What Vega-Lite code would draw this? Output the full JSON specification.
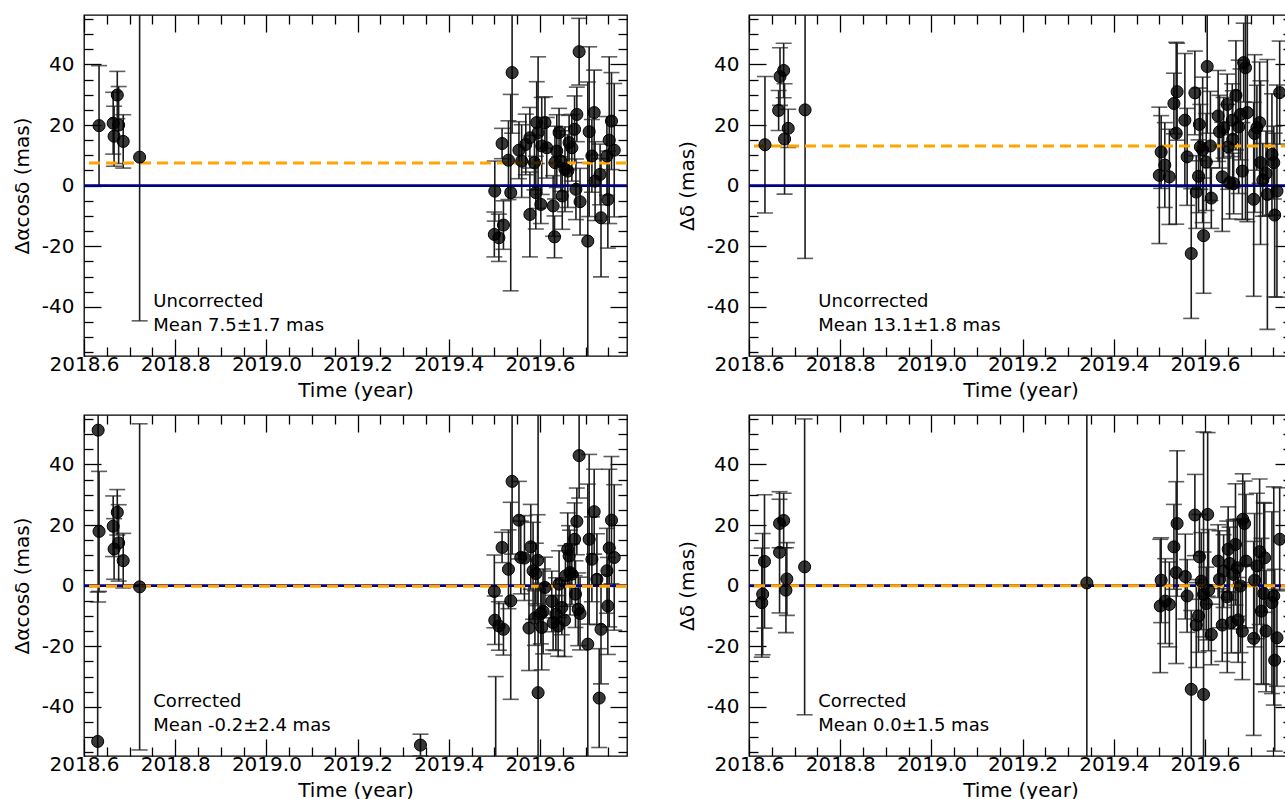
{
  "$schema": "https://vega.github.io/schema/vega-lite/v6.json",
  "background": "white",
  "padding": {"left": 11, "top": 13, "right": 0, "bottom": 0},
  "config": {
    "font": "DejaVu Sans",
    "view": {"stroke": "#000", "strokeWidth": 1.3},
    "axis": {
      "domain": false, "grid": false, "tickColor": "#000", "tickWidth": 1.3,
      "labelColor": "#000", "titleColor": "#000", "labelFont": "DejaVu Sans", "labelFontSize": 20,
      "titleFont": "DejaVu Sans", "titleFontSize": 20, "titleFontWeight": "normal"
    }
  },
  "datasets": {
    "one": [{}],
    "tl": [
      {"t":2018.633,"v":19.8,"e":19.8},{"t":2018.664,"v":20.6,"e":10.2},{"t":2018.666,"v":16.3,"e":9.9},
      {"t":2018.673,"v":29.9,"e":7.8},{"t":2018.676,"v":20.0,"e":12.7},{"t":2018.686,"v":14.6,"e":8.8},
      {"t":2018.722,"v":9.4,"e":54},
      {"t":2019.501,"v":-1.8,"e":9.9},{"t":2019.517,"v":13.9,"e":5},{"t":2019.500,"v":-16.1,"e":7.4},
      {"t":2019.510,"v":-17.2,"e":7.8},{"t":2019.520,"v":-13.0,"e":8},{"t":2019.531,"v":8.4,"e":13},
      {"t":2019.536,"v":-2.3,"e":32.4},{"t":2019.539,"v":37.3,"e":20},{"t":2019.554,"v":11.7,"e":9.4},
      {"t":2019.560,"v":8.1,"e":12},{"t":2019.569,"v":13.6,"e":10},{"t":2019.578,"v":15.8,"e":10},
      {"t":2019.578,"v":-9.5,"e":14},{"t":2019.588,"v":7.6,"e":9},{"t":2019.591,"v":-2.3,"e":12},
      {"t":2019.593,"v":20.8,"e":13.5},{"t":2019.596,"v":17.5,"e":25},{"t":2019.602,"v":-6.2,"e":6.3},
      {"t":2019.604,"v":13.1,"e":16},{"t":2019.611,"v":20.8,"e":8.5},{"t":2019.615,"v":12.5,"e":10},
      {"t":2019.629,"v":-6.7,"e":10},{"t":2019.632,"v":-16.9,"e":6.9},{"t":2019.633,"v":7.6,"e":12},
      {"t":2019.637,"v":11.4,"e":12},{"t":2019.642,"v":17.5,"e":8},{"t":2019.646,"v":8.1,"e":10},
      {"t":2019.649,"v":-3.4,"e":11},{"t":2019.655,"v":5.4,"e":14},{"t":2019.661,"v":4.8,"e":12},
      {"t":2019.664,"v":14.2,"e":9},{"t":2019.670,"v":12.5,"e":11},{"t":2019.676,"v":18.6,"e":11},
      {"t":2019.679,"v":-1.2,"e":10},{"t":2019.681,"v":23.5,"e":9},{"t":2019.686,"v":44.2,"e":11},
      {"t":2019.688,"v":-5.3,"e":11},{"t":2019.705,"v":-18.3,"e":52.5},{"t":2019.708,"v":17.8,"e":28},
      {"t":2019.714,"v":9.8,"e":12},{"t":2019.719,"v":24.1,"e":14},{"t":2019.721,"v":1.5,"e":13},
      {"t":2019.732,"v":3.7,"e":10},{"t":2019.734,"v":-10.6,"e":19.5},{"t":2019.747,"v":9.8,"e":13},
      {"t":2019.749,"v":-4.6,"e":16},{"t":2019.752,"v":15.0,"e":27.5},{"t":2019.757,"v":21.3,"e":16},
      {"t":2019.763,"v":11.7,"e":22}
    ],
    "tr": [
      {"t":2018.635,"v":13.5,"e":22.5},{"t":2018.665,"v":24.8,"e":6.6},{"t":2018.668,"v":36.0,"e":9.5},
      {"t":2018.676,"v":38.0,"e":9},{"t":2018.678,"v":15.4,"e":18.2},{"t":2018.686,"v":18.9,"e":6.3},
      {"t":2018.723,"v":25.0,"e":49},
      {"t":2019.504,"v":11.1,"e":12},{"t":2019.512,"v":6.8,"e":14},{"t":2019.500,"v":3.4,"e":22.5},
      {"t":2019.522,"v":2.9,"e":15.7},{"t":2019.532,"v":27.1,"e":10},{"t":2019.539,"v":31.0,"e":16},
      {"t":2019.537,"v":17.3,"e":30},{"t":2019.556,"v":21.6,"e":22},{"t":2019.561,"v":9.5,"e":16},
      {"t":2019.570,"v":-22.4,"e":21.4},{"t":2019.578,"v":30.6,"e":13.8},{"t":2019.581,"v":-2.1,"e":12},
      {"t":2019.586,"v":3.1,"e":12},{"t":2019.588,"v":20.2,"e":12},{"t":2019.590,"v":12.8,"e":14},
      {"t":2019.595,"v":11.8,"e":24},{"t":2019.597,"v":-16.5,"e":19},{"t":2019.603,"v":7.8,"e":16},
      {"t":2019.605,"v":39.3,"e":22},{"t":2019.612,"v":13.1,"e":18},{"t":2019.614,"v":-4.1,"e":10},
      {"t":2019.629,"v":23.0,"e":15},{"t":2019.632,"v":17.8,"e":12},{"t":2019.638,"v":2.9,"e":18},
      {"t":2019.641,"v":19.1,"e":10},{"t":2019.649,"v":26.8,"e":10},{"t":2019.651,"v":12.8,"e":14},
      {"t":2019.654,"v":1.0,"e":12},{"t":2019.660,"v":21.6,"e":12},{"t":2019.661,"v":15.3,"e":16},
      {"t":2019.663,"v":0.7,"e":10},{"t":2019.668,"v":29.8,"e":18},{"t":2019.674,"v":19.4,"e":22},
      {"t":2019.678,"v":23.5,"e":15},{"t":2019.682,"v":4.8,"e":16},{"t":2019.685,"v":40.6,"e":13},
      {"t":2019.689,"v":38.9,"e":50},{"t":2019.693,"v":24.1,"e":36},{"t":2019.707,"v":-4.5,"e":32},
      {"t":2019.709,"v":17.2,"e":26},{"t":2019.714,"v":19.1,"e":14},{"t":2019.720,"v":20.8,"e":20},
      {"t":2019.722,"v":7.6,"e":27},{"t":2019.727,"v":1.9,"e":12},{"t":2019.734,"v":4.0,"e":14},
      {"t":2019.737,"v":-2.9,"e":44.5},{"t":2019.747,"v":10.3,"e":20},{"t":2019.751,"v":7.6,"e":12},
      {"t":2019.753,"v":-9.7,"e":27},{"t":2019.758,"v":-1.8,"e":35},{"t":2019.764,"v":30.7,"e":17}
    ],
    "bl": [
      {"t":2018.631,"v":51.3,"e":56.7},{"t":2018.633,"v":17.9,"e":19.8},{"t":2018.630,"v":-51.4,"e":49.3},
      {"t":2018.664,"v":19.6,"e":10},{"t":2018.666,"v":12.1,"e":10},{"t":2018.673,"v":24.2,"e":7.5},
      {"t":2018.676,"v":14.1,"e":12.6},{"t":2018.686,"v":8.25,"e":9},{"t":2018.722,"v":-0.4,"e":53.8},
      {"t":2019.338,"v":-52.6,"e":3.6},{"t":2019.503,"v":-72.0,"e":42},
      {"t":2019.500,"v":-1.9,"e":12},{"t":2019.501,"v":-11.4,"e":8},{"t":2019.510,"v":-13.3,"e":8},
      {"t":2019.520,"v":-14.4,"e":8.5},{"t":2019.517,"v":12.6,"e":5},{"t":2019.531,"v":5.4,"e":13},
      {"t":2019.536,"v":-5.0,"e":32.5},{"t":2019.539,"v":34.4,"e":24},{"t":2019.554,"v":21.6,"e":12.8},
      {"t":2019.558,"v":9.3,"e":12},{"t":2019.566,"v":9.1,"e":14},{"t":2019.576,"v":-14.0,"e":14},
      {"t":2019.580,"v":12.8,"e":14},{"t":2019.585,"v":4.9,"e":16},{"t":2019.589,"v":-10.7,"e":9},
      {"t":2019.591,"v":4.0,"e":10},{"t":2019.595,"v":8.4,"e":15},{"t":2019.596,"v":-35.3,"e":92},
      {"t":2019.602,"v":-9.2,"e":10},{"t":2019.604,"v":-13.8,"e":14},{"t":2019.607,"v":-8.5,"e":14},
      {"t":2019.611,"v":-0.6,"e":10},{"t":2019.626,"v":-5.2,"e":10},{"t":2019.629,"v":-12.2,"e":9},
      {"t":2019.635,"v":-9.4,"e":12},{"t":2019.640,"v":-13.3,"e":10},{"t":2019.642,"v":0.5,"e":11},
      {"t":2019.648,"v":-7.2,"e":9},{"t":2019.654,"v":-11.4,"e":12},{"t":2019.656,"v":3.2,"e":10},
      {"t":2019.661,"v":12.0,"e":12},{"t":2019.664,"v":9.8,"e":10},{"t":2019.666,"v":4.3,"e":14},
      {"t":2019.670,"v":3.8,"e":10},{"t":2019.676,"v":15.3,"e":12},{"t":2019.678,"v":-2.8,"e":11},
      {"t":2019.681,"v":21.2,"e":11},{"t":2019.684,"v":-7.8,"e":12},{"t":2019.686,"v":42.9,"e":14},
      {"t":2019.688,"v":-9.2,"e":12},{"t":2019.705,"v":-19.3,"e":52.8},{"t":2019.708,"v":15.3,"e":28},
      {"t":2019.714,"v":8.7,"e":14},{"t":2019.719,"v":24.4,"e":14},{"t":2019.725,"v":2.1,"e":15},
      {"t":2019.730,"v":-37.1,"e":16.3},{"t":2019.734,"v":-14.4,"e":18},{"t":2019.747,"v":4.9,"e":14},
      {"t":2019.749,"v":-6.7,"e":16},{"t":2019.752,"v":12.4,"e":26},{"t":2019.757,"v":21.6,"e":21},
      {"t":2019.763,"v":9.3,"e":24}
    ],
    "br": [
      {"t":2018.628,"v":-5.6,"e":18},{"t":2018.630,"v":-2.8,"e":20},{"t":2018.634,"v":8.0,"e":22},
      {"t":2018.667,"v":11.0,"e":20},{"t":2018.667,"v":20.5,"e":8},{"t":2018.676,"v":21.5,"e":9},
      {"t":2018.683,"v":2.2,"e":12},{"t":2018.681,"v":-1.5,"e":14},{"t":2018.722,"v":6.2,"e":48.8},
      {"t":2019.341,"v":0.9,"e":70},
      {"t":2019.504,"v":1.8,"e":14},{"t":2019.502,"v":-6.7,"e":22},{"t":2019.513,"v":-5.1,"e":14},
      {"t":2019.522,"v":-6.2,"e":14},{"t":2019.532,"v":12.8,"e":14},{"t":2019.539,"v":20.5,"e":24},
      {"t":2019.537,"v":4.3,"e":30},{"t":2019.557,"v":3.0,"e":14},{"t":2019.561,"v":-3.4,"e":12},
      {"t":2019.570,"v":-34.2,"e":26},{"t":2019.578,"v":23.3,"e":13.4},{"t":2019.581,"v":-13.0,"e":14},
      {"t":2019.586,"v":-10.0,"e":12},{"t":2019.588,"v":9.5,"e":14},{"t":2019.592,"v":1.5,"e":16},
      {"t":2019.597,"v":-35.9,"e":86.6},{"t":2019.597,"v":-2.9,"e":14},{"t":2019.603,"v":-5.9,"e":12},
      {"t":2019.606,"v":23.5,"e":27},{"t":2019.608,"v":-1.5,"e":20},{"t":2019.614,"v":-16.1,"e":10},
      {"t":2019.629,"v":8.1,"e":12},{"t":2019.632,"v":2.1,"e":16},{"t":2019.638,"v":-13.0,"e":12},
      {"t":2019.641,"v":4.8,"e":12},{"t":2019.649,"v":-3.7,"e":25},{"t":2019.651,"v":12.0,"e":14},
      {"t":2019.654,"v":7.3,"e":12},{"t":2019.658,"v":-12.2,"e":10},{"t":2019.663,"v":3.7,"e":18},
      {"t":2019.667,"v":13.6,"e":20},{"t":2019.671,"v":5.9,"e":16},{"t":2019.673,"v":-11.3,"e":14},
      {"t":2019.678,"v":-0.1,"e":22},{"t":2019.682,"v":-15.0,"e":16},{"t":2019.683,"v":21.9,"e":15},
      {"t":2019.687,"v":20.5,"e":14},{"t":2019.690,"v":8.1,"e":22},{"t":2019.707,"v":-17.4,"e":32},
      {"t":2019.709,"v":1.8,"e":22},{"t":2019.714,"v":6.5,"e":24},{"t":2019.720,"v":11.2,"e":24},
      {"t":2019.724,"v":-8.4,"e":24},{"t":2019.729,"v":-2.6,"e":30},{"t":2019.731,"v":9.2,"e":18},
      {"t":2019.734,"v":-15.0,"e":20},{"t":2019.747,"v":-5.6,"e":30},{"t":2019.751,"v":-3.4,"e":36},
      {"t":2019.753,"v":-24.6,"e":30},{"t":2019.758,"v":-17.2,"e":16},{"t":2019.764,"v":15.3,"e":17}
    ]
  },
  "bounds": "flush",
  "columns": 2,
  "spacing": {"row": 59, "column": 122},
  "concat": [
    {
      "width": 543, "height": 341,
      "data": {"name": "tl"},
      "resolve": {"axis": {"x": "independent", "y": "independent"}},
      "layer": [
        {
          "mark": {"type": "errorbar", "clip": true, "color": "#1c1c1c", "ticks": {"size": 16}, "rule": true, "size": 16, "thickness": 1.6},
          "encoding": {
            "x": {"field": "t", "type": "quantitative", "scale": {"domain": [2018.6, 2019.791], "nice": false, "zero": false}, "axis": null},
            "y": {"field": "v", "type": "quantitative", "scale": {"domain": [-56.2, 56.3], "nice": false, "zero": false}, "axis": null},
            "yError": {"field": "e"}
          }
        },
        {"data": {"name": "one"}, "mark": {"type": "rule", "color": "#000080", "strokeWidth": 2.8}, "encoding": {"y": {"datum": 0, "axis": null}}},
        {"data": {"name": "one"}, "mark": {"type": "rule", "color": "#FFA500", "strokeWidth": 3, "strokeDash": [11, 6]}, "encoding": {"y": {"datum": 7.5, "axis": null}}},
        {
          "mark": {"type": "point", "shape": "circle", "filled": true, "size": 145, "fill": "#000", "fillOpacity": 0.78, "stroke": "#000", "strokeWidth": 1, "strokeOpacity": 1, "clip": true},
          "encoding": {
            "x": {"field": "t", "type": "quantitative", "axis": {"orient": "bottom", "offset": 0, "values": [2018.6, 2018.8, 2019.0, 2019.2, 2019.4, 2019.6], "format": ".1f", "tickSize": -17, "labelPadding": 15, "labelFlush": false, "labelOverlap": false, "title": "Time (year)", "titlePadding": 6}},
            "y": {"field": "v", "type": "quantitative", "axis": {"orient": "left", "offset": 0, "values": [-40, -20, 0, 20, 40], "labelExpr": "replace(datum.label, '−', '-')", "tickSize": -17, "labelPadding": 27, "labelFlush": false, "title": "Δαcosδ (mas)", "titlePadding": 9}}
          }
        },
        {
          "mark": {"type": "point", "opacity": 0},
          "encoding": {
            "x": {"field": "t", "type": "quantitative", "axis": {"orient": "top", "offset": 0, "values": [2018.6, 2018.8, 2019.0, 2019.2, 2019.4, 2019.6], "tickSize": -17, "labels": false, "title": null}},
            "y": {"field": "v", "type": "quantitative", "axis": {"orient": "right", "offset": 0, "values": [-40, -20, 0, 20, 40], "tickSize": -17, "labels": false, "title": null}}
          }
        },
        {
          "mark": {"type": "point", "opacity": 0},
          "encoding": {
            "x": {"field": "t", "type": "quantitative", "axis": {"orient": "bottom", "offset": 0, "values": [2018.65, 2018.7, 2018.75, 2018.85, 2018.9, 2018.95, 2019.05, 2019.1, 2019.15, 2019.25, 2019.3, 2019.35, 2019.45, 2019.5, 2019.55, 2019.65, 2019.7, 2019.75], "tickSize": -9, "labels": false, "title": null}},
            "y": {"field": "v", "type": "quantitative", "axis": {"orient": "left", "offset": 0, "values": [-55, -50, -45, -35, -30, -25, -15, -10, -5, 5, 10, 15, 25, 30, 35, 45, 50, 55], "tickSize": -9, "labels": false, "title": null}}
          }
        },
        {
          "mark": {"type": "point", "opacity": 0},
          "encoding": {
            "x": {"field": "t", "type": "quantitative", "axis": {"orient": "top", "offset": 0, "values": [2018.65, 2018.7, 2018.75, 2018.85, 2018.9, 2018.95, 2019.05, 2019.1, 2019.15, 2019.25, 2019.3, 2019.35, 2019.45, 2019.5, 2019.55, 2019.65, 2019.7, 2019.75], "tickSize": -9, "labels": false, "title": null}},
            "y": {"field": "v", "type": "quantitative", "axis": {"orient": "right", "offset": 0, "values": [-55, -50, -45, -35, -30, -25, -15, -10, -5, 5, 10, 15, 25, 30, 35, 45, 50, 55], "tickSize": -9, "labels": false, "title": null}}
          }
        },
        {"data": {"name": "one"}, "mark": {"type": "text", "align": "left", "baseline": "middle", "fontSize": 18, "color": "#000"},
         "encoding": {"x": {"datum": 2018.752, "axis": null}, "y": {"datum": -38.3, "axis": null}, "text": {"value": "Uncorrected"}}},
        {"data": {"name": "one"}, "mark": {"type": "text", "align": "left", "baseline": "middle", "fontSize": 18, "color": "#000"},
         "encoding": {"x": {"datum": 2018.752, "axis": null}, "y": {"datum": -46.2, "axis": null}, "text": {"value": "Mean 7.5±1.7 mas"}}}
      ]
    },
    {
      "width": 543, "height": 341,
      "data": {"name": "tr"},
      "resolve": {"axis": {"x": "independent", "y": "independent"}},
      "layer": [
        {
          "mark": {"type": "errorbar", "clip": true, "color": "#1c1c1c", "ticks": {"size": 16}, "rule": true, "size": 16, "thickness": 1.6},
          "encoding": {
            "x": {"field": "t", "type": "quantitative", "scale": {"domain": [2018.6, 2019.791], "nice": false, "zero": false}, "axis": null},
            "y": {"field": "v", "type": "quantitative", "scale": {"domain": [-56.2, 56.3], "nice": false, "zero": false}, "axis": null},
            "yError": {"field": "e"}
          }
        },
        {"data": {"name": "one"}, "mark": {"type": "rule", "color": "#000080", "strokeWidth": 2.8}, "encoding": {"y": {"datum": 0, "axis": null}}},
        {"data": {"name": "one"}, "mark": {"type": "rule", "color": "#FFA500", "strokeWidth": 3, "strokeDash": [11, 6]}, "encoding": {"y": {"datum": 13.1, "axis": null}}},
        {
          "mark": {"type": "point", "shape": "circle", "filled": true, "size": 145, "fill": "#000", "fillOpacity": 0.78, "stroke": "#000", "strokeWidth": 1, "strokeOpacity": 1, "clip": true},
          "encoding": {
            "x": {"field": "t", "type": "quantitative", "axis": {"orient": "bottom", "offset": 0, "values": [2018.6, 2018.8, 2019.0, 2019.2, 2019.4, 2019.6], "format": ".1f", "tickSize": -17, "labelPadding": 15, "labelFlush": false, "labelOverlap": false, "title": "Time (year)", "titlePadding": 6}},
            "y": {"field": "v", "type": "quantitative", "axis": {"orient": "left", "offset": 0, "values": [-40, -20, 0, 20, 40], "labelExpr": "replace(datum.label, '−', '-')", "tickSize": -17, "labelPadding": 27, "labelFlush": false, "title": "Δδ (mas)", "titlePadding": 9}}
          }
        },
        {
          "mark": {"type": "point", "opacity": 0},
          "encoding": {
            "x": {"field": "t", "type": "quantitative", "axis": {"orient": "top", "offset": 0, "values": [2018.6, 2018.8, 2019.0, 2019.2, 2019.4, 2019.6], "tickSize": -17, "labels": false, "title": null}},
            "y": {"field": "v", "type": "quantitative", "axis": {"orient": "right", "offset": 0, "values": [-40, -20, 0, 20, 40], "tickSize": -17, "labels": false, "title": null}}
          }
        },
        {
          "mark": {"type": "point", "opacity": 0},
          "encoding": {
            "x": {"field": "t", "type": "quantitative", "axis": {"orient": "bottom", "offset": 0, "values": [2018.65, 2018.7, 2018.75, 2018.85, 2018.9, 2018.95, 2019.05, 2019.1, 2019.15, 2019.25, 2019.3, 2019.35, 2019.45, 2019.5, 2019.55, 2019.65, 2019.7, 2019.75], "tickSize": -9, "labels": false, "title": null}},
            "y": {"field": "v", "type": "quantitative", "axis": {"orient": "left", "offset": 0, "values": [-55, -50, -45, -35, -30, -25, -15, -10, -5, 5, 10, 15, 25, 30, 35, 45, 50, 55], "tickSize": -9, "labels": false, "title": null}}
          }
        },
        {
          "mark": {"type": "point", "opacity": 0},
          "encoding": {
            "x": {"field": "t", "type": "quantitative", "axis": {"orient": "top", "offset": 0, "values": [2018.65, 2018.7, 2018.75, 2018.85, 2018.9, 2018.95, 2019.05, 2019.1, 2019.15, 2019.25, 2019.3, 2019.35, 2019.45, 2019.5, 2019.55, 2019.65, 2019.7, 2019.75], "tickSize": -9, "labels": false, "title": null}},
            "y": {"field": "v", "type": "quantitative", "axis": {"orient": "right", "offset": 0, "values": [-55, -50, -45, -35, -30, -25, -15, -10, -5, 5, 10, 15, 25, 30, 35, 45, 50, 55], "tickSize": -9, "labels": false, "title": null}}
          }
        },
        {"data": {"name": "one"}, "mark": {"type": "text", "align": "left", "baseline": "middle", "fontSize": 18, "color": "#000"},
         "encoding": {"x": {"datum": 2018.752, "axis": null}, "y": {"datum": -38.3, "axis": null}, "text": {"value": "Uncorrected"}}},
        {"data": {"name": "one"}, "mark": {"type": "text", "align": "left", "baseline": "middle", "fontSize": 18, "color": "#000"},
         "encoding": {"x": {"datum": 2018.752, "axis": null}, "y": {"datum": -46.2, "axis": null}, "text": {"value": "Mean 13.1±1.8 mas"}}}
      ]
    },
    {
      "width": 543, "height": 341,
      "data": {"name": "bl"},
      "resolve": {"axis": {"x": "independent", "y": "independent"}},
      "layer": [
        {
          "mark": {"type": "errorbar", "clip": true, "color": "#1c1c1c", "ticks": {"size": 16}, "rule": true, "size": 16, "thickness": 1.6},
          "encoding": {
            "x": {"field": "t", "type": "quantitative", "scale": {"domain": [2018.6, 2019.791], "nice": false, "zero": false}, "axis": null},
            "y": {"field": "v", "type": "quantitative", "scale": {"domain": [-56.2, 56.3], "nice": false, "zero": false}, "axis": null},
            "yError": {"field": "e"}
          }
        },
        {"data": {"name": "one"}, "mark": {"type": "rule", "color": "#000080", "strokeWidth": 2.8}, "encoding": {"y": {"datum": 0, "axis": null}}},
        {"data": {"name": "one"}, "mark": {"type": "rule", "color": "#FFA500", "strokeWidth": 3, "strokeDash": [11, 6]}, "encoding": {"y": {"datum": -0.2, "axis": null}}},
        {
          "mark": {"type": "point", "shape": "circle", "filled": true, "size": 145, "fill": "#000", "fillOpacity": 0.78, "stroke": "#000", "strokeWidth": 1, "strokeOpacity": 1, "clip": true},
          "encoding": {
            "x": {"field": "t", "type": "quantitative", "axis": {"orient": "bottom", "offset": 0, "values": [2018.6, 2018.8, 2019.0, 2019.2, 2019.4, 2019.6], "format": ".1f", "tickSize": -17, "labelPadding": 15, "labelFlush": false, "labelOverlap": false, "title": "Time (year)", "titlePadding": 6}},
            "y": {"field": "v", "type": "quantitative", "axis": {"orient": "left", "offset": 0, "values": [-40, -20, 0, 20, 40], "labelExpr": "replace(datum.label, '−', '-')", "tickSize": -17, "labelPadding": 27, "labelFlush": false, "title": "Δαcosδ (mas)", "titlePadding": 9}}
          }
        },
        {
          "mark": {"type": "point", "opacity": 0},
          "encoding": {
            "x": {"field": "t", "type": "quantitative", "axis": {"orient": "top", "offset": 0, "values": [2018.6, 2018.8, 2019.0, 2019.2, 2019.4, 2019.6], "tickSize": -17, "labels": false, "title": null}},
            "y": {"field": "v", "type": "quantitative", "axis": {"orient": "right", "offset": 0, "values": [-40, -20, 0, 20, 40], "tickSize": -17, "labels": false, "title": null}}
          }
        },
        {
          "mark": {"type": "point", "opacity": 0},
          "encoding": {
            "x": {"field": "t", "type": "quantitative", "axis": {"orient": "bottom", "offset": 0, "values": [2018.65, 2018.7, 2018.75, 2018.85, 2018.9, 2018.95, 2019.05, 2019.1, 2019.15, 2019.25, 2019.3, 2019.35, 2019.45, 2019.5, 2019.55, 2019.65, 2019.7, 2019.75], "tickSize": -9, "labels": false, "title": null}},
            "y": {"field": "v", "type": "quantitative", "axis": {"orient": "left", "offset": 0, "values": [-55, -50, -45, -35, -30, -25, -15, -10, -5, 5, 10, 15, 25, 30, 35, 45, 50, 55], "tickSize": -9, "labels": false, "title": null}}
          }
        },
        {
          "mark": {"type": "point", "opacity": 0},
          "encoding": {
            "x": {"field": "t", "type": "quantitative", "axis": {"orient": "top", "offset": 0, "values": [2018.65, 2018.7, 2018.75, 2018.85, 2018.9, 2018.95, 2019.05, 2019.1, 2019.15, 2019.25, 2019.3, 2019.35, 2019.45, 2019.5, 2019.55, 2019.65, 2019.7, 2019.75], "tickSize": -9, "labels": false, "title": null}},
            "y": {"field": "v", "type": "quantitative", "axis": {"orient": "right", "offset": 0, "values": [-55, -50, -45, -35, -30, -25, -15, -10, -5, 5, 10, 15, 25, 30, 35, 45, 50, 55], "tickSize": -9, "labels": false, "title": null}}
          }
        },
        {"data": {"name": "one"}, "mark": {"type": "text", "align": "left", "baseline": "middle", "fontSize": 18, "color": "#000"},
         "encoding": {"x": {"datum": 2018.752, "axis": null}, "y": {"datum": -38.3, "axis": null}, "text": {"value": "Corrected"}}},
        {"data": {"name": "one"}, "mark": {"type": "text", "align": "left", "baseline": "middle", "fontSize": 18, "color": "#000"},
         "encoding": {"x": {"datum": 2018.752, "axis": null}, "y": {"datum": -46.2, "axis": null}, "text": {"value": "Mean -0.2±2.4 mas"}}}
      ]
    },
    {
      "width": 543, "height": 341,
      "data": {"name": "br"},
      "resolve": {"axis": {"x": "independent", "y": "independent"}},
      "layer": [
        {
          "mark": {"type": "errorbar", "clip": true, "color": "#1c1c1c", "ticks": {"size": 16}, "rule": true, "size": 16, "thickness": 1.6},
          "encoding": {
            "x": {"field": "t", "type": "quantitative", "scale": {"domain": [2018.6, 2019.791], "nice": false, "zero": false}, "axis": null},
            "y": {"field": "v", "type": "quantitative", "scale": {"domain": [-56.2, 56.3], "nice": false, "zero": false}, "axis": null},
            "yError": {"field": "e"}
          }
        },
        {"data": {"name": "one"}, "mark": {"type": "rule", "color": "#000080", "strokeWidth": 2.8}, "encoding": {"y": {"datum": 0, "axis": null}}},
        {"data": {"name": "one"}, "mark": {"type": "rule", "color": "#FFA500", "strokeWidth": 3, "strokeDash": [11, 6]}, "encoding": {"y": {"datum": 0.0, "axis": null}}},
        {
          "mark": {"type": "point", "shape": "circle", "filled": true, "size": 145, "fill": "#000", "fillOpacity": 0.78, "stroke": "#000", "strokeWidth": 1, "strokeOpacity": 1, "clip": true},
          "encoding": {
            "x": {"field": "t", "type": "quantitative", "axis": {"orient": "bottom", "offset": 0, "values": [2018.6, 2018.8, 2019.0, 2019.2, 2019.4, 2019.6], "format": ".1f", "tickSize": -17, "labelPadding": 15, "labelFlush": false, "labelOverlap": false, "title": "Time (year)", "titlePadding": 6}},
            "y": {"field": "v", "type": "quantitative", "axis": {"orient": "left", "offset": 0, "values": [-40, -20, 0, 20, 40], "labelExpr": "replace(datum.label, '−', '-')", "tickSize": -17, "labelPadding": 27, "labelFlush": false, "title": "Δδ (mas)", "titlePadding": 9}}
          }
        },
        {
          "mark": {"type": "point", "opacity": 0},
          "encoding": {
            "x": {"field": "t", "type": "quantitative", "axis": {"orient": "top", "offset": 0, "values": [2018.6, 2018.8, 2019.0, 2019.2, 2019.4, 2019.6], "tickSize": -17, "labels": false, "title": null}},
            "y": {"field": "v", "type": "quantitative", "axis": {"orient": "right", "offset": 0, "values": [-40, -20, 0, 20, 40], "tickSize": -17, "labels": false, "title": null}}
          }
        },
        {
          "mark": {"type": "point", "opacity": 0},
          "encoding": {
            "x": {"field": "t", "type": "quantitative", "axis": {"orient": "bottom", "offset": 0, "values": [2018.65, 2018.7, 2018.75, 2018.85, 2018.9, 2018.95, 2019.05, 2019.1, 2019.15, 2019.25, 2019.3, 2019.35, 2019.45, 2019.5, 2019.55, 2019.65, 2019.7, 2019.75], "tickSize": -9, "labels": false, "title": null}},
            "y": {"field": "v", "type": "quantitative", "axis": {"orient": "left", "offset": 0, "values": [-55, -50, -45, -35, -30, -25, -15, -10, -5, 5, 10, 15, 25, 30, 35, 45, 50, 55], "tickSize": -9, "labels": false, "title": null}}
          }
        },
        {
          "mark": {"type": "point", "opacity": 0},
          "encoding": {
            "x": {"field": "t", "type": "quantitative", "axis": {"orient": "top", "offset": 0, "values": [2018.65, 2018.7, 2018.75, 2018.85, 2018.9, 2018.95, 2019.05, 2019.1, 2019.15, 2019.25, 2019.3, 2019.35, 2019.45, 2019.5, 2019.55, 2019.65, 2019.7, 2019.75], "tickSize": -9, "labels": false, "title": null}},
            "y": {"field": "v", "type": "quantitative", "axis": {"orient": "right", "offset": 0, "values": [-55, -50, -45, -35, -30, -25, -15, -10, -5, 5, 10, 15, 25, 30, 35, 45, 50, 55], "tickSize": -9, "labels": false, "title": null}}
          }
        },
        {"data": {"name": "one"}, "mark": {"type": "text", "align": "left", "baseline": "middle", "fontSize": 18, "color": "#000"},
         "encoding": {"x": {"datum": 2018.752, "axis": null}, "y": {"datum": -38.3, "axis": null}, "text": {"value": "Corrected"}}},
        {"data": {"name": "one"}, "mark": {"type": "text", "align": "left", "baseline": "middle", "fontSize": 18, "color": "#000"},
         "encoding": {"x": {"datum": 2018.752, "axis": null}, "y": {"datum": -46.2, "axis": null}, "text": {"value": "Mean 0.0±1.5 mas"}}}
      ]
    }
  ]
}
